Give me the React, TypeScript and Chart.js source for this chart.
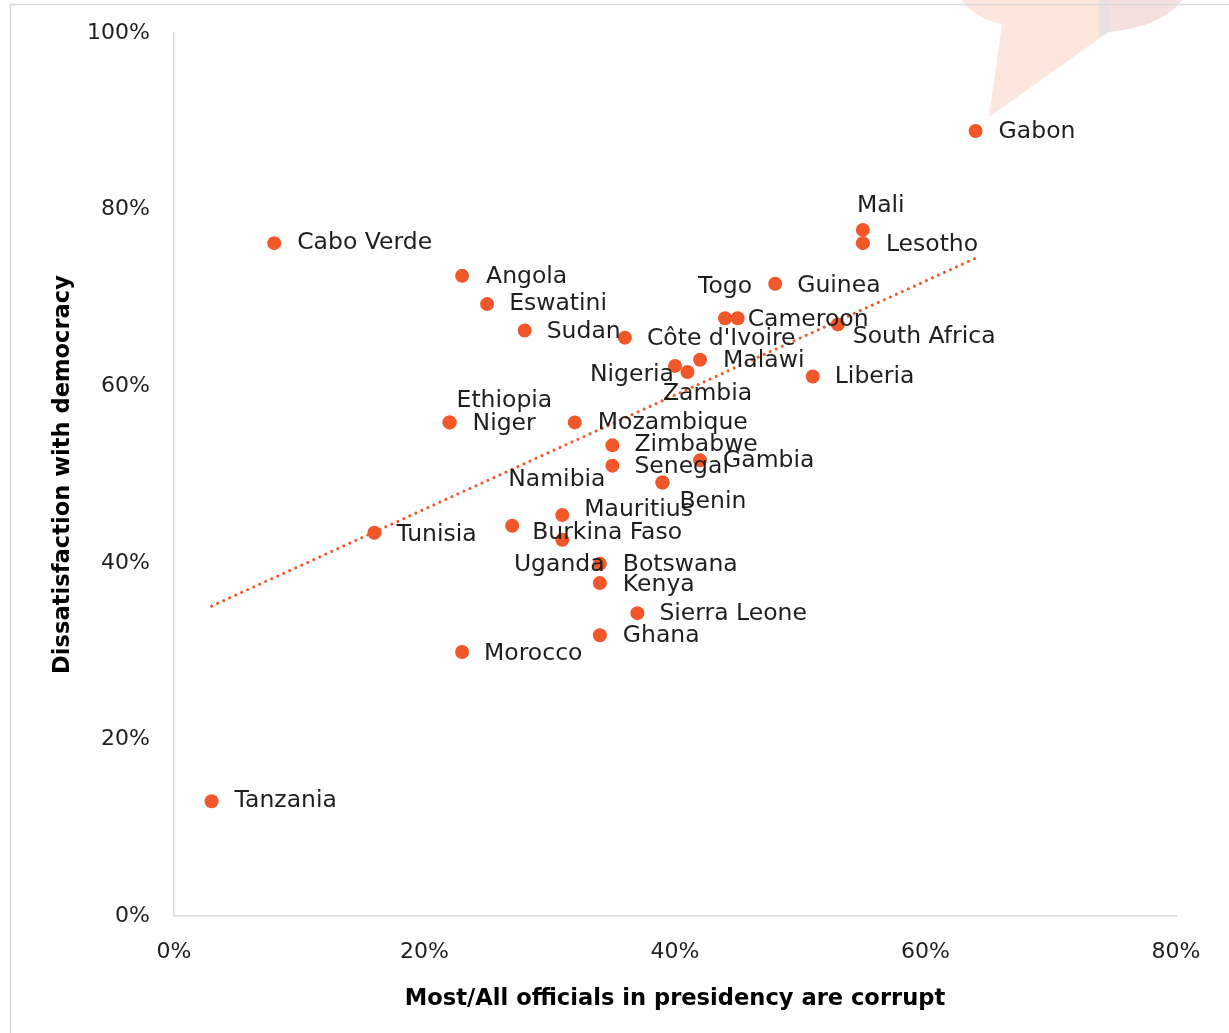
import React, { useEffect, useRef } from 'react';
import { Chart, registerables } from 'chart.js';

Chart.register(...registerables);

// ---- Data ----
const countries = [
  'Tanzania', 'Cabo Verde', 'Angola', 'Eswatini', 'Sudan', "Côte d'Ivoire", 'Nigeria', 'Zambia',
  'Malawi', 'Togo', 'Cameroon', 'Guinea', 'South Africa', 'Liberia', 'Mali', 'Lesotho', 'Gabon',
  'Ethiopia', 'Niger', 'Mozambique', 'Zimbabwe', 'Senegal', 'Gambia', 'Namibia', 'Benin',
  'Mauritius', 'Burkina Faso', 'Uganda', 'Tunisia', 'Botswana', 'Kenya', 'Sierra Leone', 'Ghana',
  'Morocco',
];
// Most/All officials in presidency are corrupt (%)
const corruptPct = [
  3, 8, 23, 25, 28, 36, 40, 41,
  42, 44, 45, 48, 53, 51, 55, 55, 64,
  22, 22, 32, 35, 35, 42, 39, 39,
  31, 27, 31, 16, 34, 34, 37, 34,
  23,
];
// Dissatisfaction with democracy (%)
const dissatisfiedPct = [
  13, 76.2, 72.5, 69.3, 66.3, 65.5, 62.3, 61.6,
  63, 67.7, 67.7, 71.6, 67, 61.1, 77.7, 76.2, 88.9,
  55.9, 55.9, 55.9, 53.3, 51, 51.6, 49.1, 49.1,
  45.4, 44.2, 42.6, 43.4, 39.9, 37.7, 34.3, 31.8,
  29.9,
];
const xTickValues = [0, 20, 40, 60, 80];
const yTickValues = [0, 20, 40, 60, 80, 100];
const xTitle = 'Most/All officials in presidency are corrupt';
const yTitle = 'Dissatisfaction with democracy';

// ---- Label placement (align, dx, dy in px relative to the marker) ----
const labelPlacement: Record<string, [CanvasTextAlign, number, number]> = {
  'Tanzania': ['left', 23, 0],
  'Cabo Verde': ['left', 23, 0],
  'Angola': ['left', 24, 1],
  'Eswatini': ['left', 22, 0],
  'Sudan': ['left', 22, 1],
  "Côte d'Ivoire": ['left', 22, 1],
  'Nigeria': ['right', -1, 9],
  'Zambia': ['center', 20, 22],
  'Malawi': ['left', 23, 1],
  'Togo': ['center', 0, -31],
  'Cameroon': ['left', 10, 2],
  'Guinea': ['left', 22, 2],
  'South Africa': ['left', 15, 13],
  'Liberia': ['left', 22, 0],
  'Mali': ['left', -6, -24],
  'Lesotho': ['left', 23, 2],
  'Gabon': ['left', 23, 1],
  'Ethiopia': ['left', 7, -22],
  'Niger': ['left', 23, 1],
  'Mozambique': ['left', 23, 0],
  'Zimbabwe': ['left', 22, 0],
  'Senegal': ['left', 22, 1],
  'Gambia': ['left', 23, 1],
  'Namibia': ['right', -57, -3],
  'Benin': ['left', 17, 19],
  'Mauritius': ['left', 22, -5],
  'Burkina Faso': ['left', 20, 7],
  'Uganda': ['center', -3, 25],
  'Tunisia': ['left', 22, 2],
  'Botswana': ['left', 23, 1],
  'Kenya': ['left', 23, 2],
  'Sierra Leone': ['left', 22, 1],
  'Ghana': ['left', 23, 1],
  'Morocco': ['left', 22, 2],
};

const ORANGE = '#F2572A';
const TEXT = '#1e1e1e';
const AXIS = '#D9D9D9';
const FONT = '"DejaVu Sans", "Noto Sans", sans-serif';

function regression(xs: number[], ys: number[]) {
  const n = xs.length;
  const mx = xs.reduce((a, b) => a + b, 0) / n;
  const my = ys.reduce((a, b) => a + b, 0) / n;
  let sxy = 0;
  let sxx = 0;
  for (let i = 0; i < n; i++) {
    sxy += (xs[i] - mx) * (ys[i] - my);
    sxx += (xs[i] - mx) * (xs[i] - mx);
  }
  const slope = sxy / sxx;
  return { slope, intercept: my - slope * mx };
}

const backgroundPlugin = {
  id: 'bg',
  beforeDraw(chart: any) {
    const ctx = chart.ctx as CanvasRenderingContext2D;
    ctx.save();
    ctx.fillStyle = '#ffffff';
    ctx.fillRect(0, 0, chart.width, chart.height);
    // decorative speech bubble (top right)
    ctx.fillStyle = '#FDE6DD';
    ctx.beginPath();
    ctx.moveTo(962, 0);
    ctx.quadraticCurveTo(976, 19, 1002, 24);
    ctx.lineTo(989, 117);
    ctx.lineTo(1100, 38);
    ctx.lineTo(1100, 0);
    ctx.closePath();
    ctx.fill();
    ctx.fillStyle = '#F4E0DD';
    ctx.beginPath();
    ctx.moveTo(1108, 0);
    ctx.lineTo(1108, 32);
    ctx.quadraticCurveTo(1162, 27, 1182, 0);
    ctx.closePath();
    ctx.fill();
    ctx.fillStyle = '#E9E1DF';
    ctx.beginPath();
    ctx.moveTo(1099, 0);
    ctx.lineTo(1109, 0);
    ctx.lineTo(1109, 32);
    ctx.lineTo(1099, 38);
    ctx.closePath();
    ctx.fill();
    // outer frame
    ctx.strokeStyle = AXIS;
    ctx.lineWidth = 1.5;
    ctx.beginPath();
    ctx.moveTo(10.5, chart.height);
    ctx.lineTo(10.5, 4.5);
    ctx.lineTo(chart.width, 4.5);
    ctx.stroke();
    ctx.restore();
  },
};

const labelsPlugin = {
  id: 'pointLabels',
  afterDatasetsDraw(chart: any) {
    const ctx = chart.ctx as CanvasRenderingContext2D;
    const meta = chart.getDatasetMeta(0);
    ctx.save();
    ctx.font = `23.5px ${FONT}`;
    ctx.fillStyle = TEXT;
    ctx.textBaseline = 'middle';
    meta.data.forEach((el: any, i: number) => {
      const name = countries[i];
      const [align, dx, dy] = labelPlacement[name] || ['left', 22, 0];
      ctx.textAlign = align;
      ctx.fillText(name, el.x + dx, el.y + dy);
    });
    ctx.restore();
  },
  afterDraw(chart: any) {
    const ctx = chart.ctx as CanvasRenderingContext2D;
    const area = chart.chartArea;
    ctx.save();
    ctx.fillStyle = '#000000';
    ctx.font = `bold 22.6px ${FONT}`;
    ctx.textAlign = 'center';
    ctx.textBaseline = 'middle';
    ctx.fillText(xTitle, (area.left + area.right) / 2, 999);
    ctx.translate(63, (area.top + area.bottom) / 2);
    ctx.rotate(-Math.PI / 2);
    ctx.fillText(yTitle, 0, 0);
    ctx.restore();
  },
};

export default function App() {
  const canvasRef = useRef<HTMLCanvasElement | null>(null);

  useEffect(() => {
    document.body.style.margin = '0';
    const canvas = canvasRef.current;
    if (!canvas) return;
    const points = corruptPct.map((x, i) => ({ x, y: dissatisfiedPct[i] }));
    const { slope, intercept } = regression(corruptPct, dissatisfiedPct);
    const xMin = Math.min(...corruptPct);
    const xMax = Math.max(...corruptPct);
    const trend = [
      { x: xMin, y: intercept + slope * xMin },
      { x: xMax, y: intercept + slope * xMax },
    ];

    const chart = new Chart(canvas, {
      type: 'scatter',
      data: {
        datasets: [
          {
            label: 'Countries',
            data: points,
            pointRadius: 7,
            pointHoverRadius: 7,
            pointBackgroundColor: ORANGE,
            pointBorderWidth: 0,
            order: 1,
          },
          {
            type: 'line',
            label: 'Trend',
            data: trend,
            showLine: true,
            borderColor: ORANGE,
            borderWidth: 3,
            borderDash: [0.1, 6.5],
            borderCapStyle: 'round',
            pointRadius: 0,
            fill: false,
            order: 0,
          } as any,
        ],
      },
      options: {
        animation: false,
        responsive: false,
        maintainAspectRatio: false,
        layout: { padding: { top: 33, right: 53, left: 0, bottom: 0 } },
        plugins: {
          legend: { display: false },
          tooltip: { enabled: false },
        },
        scales: {
          x: {
            type: 'linear',
            min: xTickValues[0],
            max: xTickValues[xTickValues.length - 1],
            afterBuildTicks: (scale: any) => {
              scale.ticks = xTickValues.map((v) => ({ value: v }));
            },
            ticks: {
              callback: (v: any) => `${v}%`,
              font: { family: FONT, size: 22 },
              color: TEXT,
              padding: 23,
              maxRotation: 0,
            },
            grid: { drawOnChartArea: false, drawTicks: false },
            border: { color: AXIS, width: 1.5 },
            afterFit: (scale: any) => {
              scale.height = 117;
              scale.paddingLeft = 0;
              scale.paddingRight = 0;
            },
          },
          y: {
            type: 'linear',
            min: yTickValues[0],
            max: yTickValues[yTickValues.length - 1],
            afterBuildTicks: (scale: any) => {
              scale.ticks = yTickValues.map((v) => ({ value: v }));
            },
            ticks: {
              callback: (v: any) => `${v}%`,
              font: { family: FONT, size: 22 },
              color: TEXT,
              padding: 24,
            },
            grid: { drawOnChartArea: false, drawTicks: false },
            border: { color: AXIS, width: 1.5 },
            afterFit: (scale: any) => {
              scale.width = 174;
              scale.paddingTop = 0;
              scale.paddingBottom = 0;
            },
          },
        },
      },
      plugins: [backgroundPlugin, labelsPlugin],
    });
    return () => chart.destroy();
  }, []);

  return (
    <div style={{ width: 1229, height: 1033 }}>
      <canvas ref={canvasRef} width={1229} height={1033} style={{ display: 'block' }} />
    </div>
  );
}
